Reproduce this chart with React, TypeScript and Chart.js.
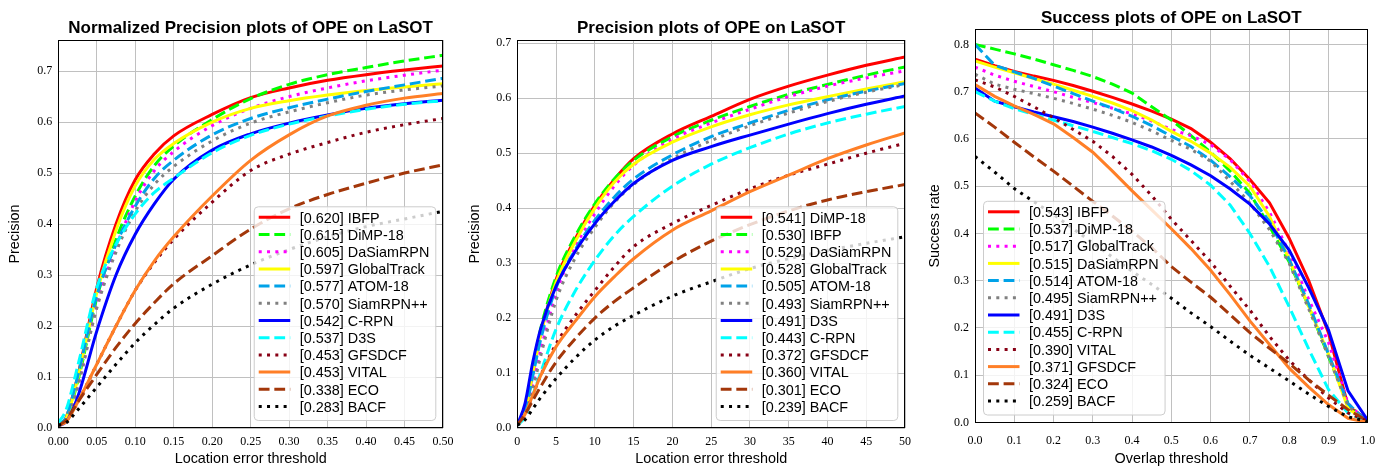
import React, { useEffect, useRef } from 'react';
import { Chart, registerables } from 'chart.js';

Chart.register(...registerables);

// ---------------- Shared style (by rank position) ----------------
const COLORS = ['#ff0000', '#00ff00', '#ff00ff', '#ffff00', 'rgb(0,162,232)', '#808080', '#0000ff', '#00ffff', 'rgb(136,0,21)', 'rgb(255,127,39)', 'rgb(163,55,10)', '#000000'];
const STYLES = ['-', '--', ':', '-', '--', ':', '-', '--', ':', '-', '--', ':'];

// ---------------- Panel 1: Normalized precision ----------------
const normX = [0, 0.01, 0.025, 0.05, 0.075, 0.1, 0.125, 0.15, 0.2, 0.25, 0.3, 0.35, 0.4, 0.45, 0.5];
const normNames = ['[0.620] IBFP', '[0.615] DiMP-18', '[0.605] DaSiamRPN', '[0.597] GlobalTrack', '[0.577] ATOM-18', '[0.570] SiamRPN++', '[0.542] C-RPN', '[0.537] D3S', '[0.453] GFSDCF', '[0.453] VITAL', '[0.338] ECO', '[0.283] BACF'];
const normIBFP = [0.005, 0.02, 0.1, 0.275, 0.4, 0.487, 0.538, 0.573, 0.615, 0.648, 0.667, 0.682, 0.693, 0.702, 0.71];
const normDiMP = [0.005, 0.018, 0.09, 0.255, 0.37, 0.455, 0.515, 0.553, 0.605, 0.646, 0.674, 0.693, 0.707, 0.72, 0.731];
const normDaSiam = [0.005, 0.015, 0.08, 0.24, 0.355, 0.445, 0.505, 0.542, 0.593, 0.627, 0.65, 0.667, 0.681, 0.692, 0.702];
const normGlobal = [0.005, 0.018, 0.095, 0.265, 0.388, 0.475, 0.527, 0.558, 0.6, 0.627, 0.642, 0.653, 0.662, 0.669, 0.675];
const normATOM = [0.005, 0.02, 0.1, 0.26, 0.36, 0.435, 0.49, 0.525, 0.575, 0.607, 0.628, 0.645, 0.66, 0.673, 0.686];
const normSiamRPN = [0.005, 0.015, 0.08, 0.235, 0.345, 0.425, 0.478, 0.513, 0.563, 0.598, 0.62, 0.638, 0.653, 0.663, 0.671];
const normCRPN = [0.005, 0.012, 0.06, 0.19, 0.3, 0.38, 0.44, 0.488, 0.545, 0.577, 0.598, 0.614, 0.627, 0.636, 0.643];
const normD3S = [0.01, 0.035, 0.12, 0.275, 0.36, 0.42, 0.462, 0.49, 0.54, 0.574, 0.596, 0.612, 0.625, 0.635, 0.642];
const normGFSDCF = [0.005, 0.012, 0.05, 0.125, 0.2, 0.27, 0.325, 0.37, 0.443, 0.505, 0.537, 0.56, 0.58, 0.595, 0.607];
const normVITAL = [0.005, 0.012, 0.05, 0.125, 0.2, 0.27, 0.328, 0.375, 0.455, 0.525, 0.575, 0.612, 0.633, 0.647, 0.656];
const normECO = [0.005, 0.015, 0.05, 0.105, 0.158, 0.205, 0.246, 0.283, 0.338, 0.39, 0.43, 0.458, 0.48, 0.5, 0.516];
const normBACF = [0.005, 0.01, 0.035, 0.08, 0.125, 0.167, 0.203, 0.235, 0.282, 0.32, 0.35, 0.375, 0.395, 0.41, 0.425];
const normXTicks = [0, 0.05, 0.1, 0.15, 0.2, 0.25, 0.3, 0.35, 0.4, 0.45, 0.5];
const normYTicks = [0, 0.1, 0.2, 0.3, 0.4, 0.5, 0.6, 0.7];

// ---------------- Panel 2: Precision ----------------
const precX = [0, 1, 2, 3, 5, 7.5, 10, 12.5, 15, 20, 25, 30, 35, 40, 45, 50];
const precNames = ['[0.541] DiMP-18', '[0.530] IBFP', '[0.529] DaSiamRPN', '[0.528] GlobalTrack', '[0.505] ATOM-18', '[0.493] SiamRPN++', '[0.491] D3S', '[0.443] C-RPN', '[0.372] GFSDCF', '[0.360] VITAL', '[0.301] ECO', '[0.239] BACF'];
const precDiMP = [0.005, 0.03, 0.1, 0.17, 0.27, 0.345, 0.405, 0.452, 0.49, 0.535, 0.567, 0.598, 0.622, 0.642, 0.66, 0.675];
const precIBFP = [0.005, 0.035, 0.11, 0.18, 0.275, 0.35, 0.408, 0.453, 0.487, 0.53, 0.56, 0.585, 0.607, 0.625, 0.642, 0.657];
const precDaSiam = [0.005, 0.025, 0.08, 0.14, 0.245, 0.33, 0.39, 0.44, 0.478, 0.525, 0.555, 0.58, 0.603, 0.622, 0.637, 0.65];
const precGlobal = [0.005, 0.03, 0.1, 0.17, 0.265, 0.34, 0.4, 0.447, 0.48, 0.52, 0.548, 0.57, 0.588, 0.603, 0.617, 0.63];
const precATOM = [0.005, 0.03, 0.095, 0.16, 0.255, 0.325, 0.378, 0.42, 0.453, 0.497, 0.53, 0.555, 0.578, 0.597, 0.613, 0.627];
const precSiamRPN = [0.005, 0.02, 0.07, 0.13, 0.232, 0.31, 0.365, 0.41, 0.443, 0.49, 0.523, 0.55, 0.573, 0.594, 0.611, 0.625];
const precD3S = [0.005, 0.045, 0.12, 0.18, 0.258, 0.322, 0.372, 0.412, 0.445, 0.487, 0.512, 0.533, 0.553, 0.572, 0.589, 0.604];
const precCRPN = [0.005, 0.02, 0.06, 0.1, 0.18, 0.25, 0.305, 0.35, 0.385, 0.44, 0.48, 0.51, 0.535, 0.555, 0.571, 0.585];
const precGFSDCF = [0.005, 0.025, 0.06, 0.095, 0.153, 0.205, 0.25, 0.293, 0.33, 0.372, 0.405, 0.435, 0.46, 0.48, 0.5, 0.518];
const precVITAL = [0.005, 0.025, 0.06, 0.095, 0.148, 0.195, 0.239, 0.275, 0.308, 0.36, 0.395, 0.43, 0.46, 0.49, 0.515, 0.537];
const precECO = [0.005, 0.025, 0.05, 0.075, 0.12, 0.163, 0.2, 0.23, 0.255, 0.302, 0.34, 0.37, 0.395, 0.415, 0.43, 0.443];
const precBACF = [0.005, 0.015, 0.035, 0.055, 0.09, 0.128, 0.16, 0.185, 0.205, 0.24, 0.266, 0.29, 0.308, 0.323, 0.336, 0.348];
const precXTicks = [0, 5, 10, 15, 20, 25, 30, 35, 40, 45, 50];
const precYTicks = [0, 0.1, 0.2, 0.3, 0.4, 0.5, 0.6, 0.7];

// ---------------- Panel 3: Success ----------------
const succX = [0, 0.05, 0.1, 0.15, 0.2, 0.25, 0.3, 0.35, 0.4, 0.45, 0.5, 0.55, 0.6, 0.65, 0.7, 0.75, 0.8, 0.85, 0.9, 0.95, 1.0];
const succNames = ['[0.543] IBFP', '[0.537] DiMP-18', '[0.517] GlobalTrack', '[0.515] DaSiamRPN', '[0.514] ATOM-18', '[0.495] SiamRPN++', '[0.491] D3S', '[0.455] C-RPN', '[0.390] VITAL', '[0.371] GFSDCF', '[0.324] ECO', '[0.259] BACF'];
const succIBFP = [0.769, 0.755, 0.743, 0.733, 0.724, 0.713, 0.701, 0.688, 0.674, 0.659, 0.642, 0.622, 0.593, 0.558, 0.514, 0.465, 0.39, 0.3, 0.19, 0.035, 0.005];
const succDiMP = [0.8, 0.79, 0.78, 0.769, 0.757, 0.745, 0.732, 0.716, 0.697, 0.668, 0.64, 0.607, 0.572, 0.532, 0.485, 0.415, 0.34, 0.245, 0.14, 0.038, 0];
const succGlobal = [0.752, 0.735, 0.722, 0.711, 0.7, 0.688, 0.677, 0.665, 0.653, 0.638, 0.62, 0.607, 0.588, 0.556, 0.51, 0.445, 0.36, 0.26, 0.17, 0.04, 0];
const succDaSiam = [0.765, 0.752, 0.74, 0.728, 0.716, 0.703, 0.69, 0.676, 0.66, 0.64, 0.616, 0.595, 0.57, 0.54, 0.5, 0.436, 0.345, 0.245, 0.145, 0.03, 0];
const succATOM = [0.8, 0.756, 0.742, 0.728, 0.712, 0.696, 0.68, 0.665, 0.648, 0.628, 0.606, 0.584, 0.555, 0.52, 0.48, 0.425, 0.345, 0.25, 0.145, 0.04, 0];
const succSiamRPN = [0.737, 0.716, 0.705, 0.696, 0.686, 0.675, 0.663, 0.65, 0.635, 0.617, 0.597, 0.578, 0.553, 0.51, 0.464, 0.408, 0.337, 0.24, 0.14, 0.035, 0];
const succD3S = [0.708, 0.68, 0.668, 0.657, 0.647, 0.637, 0.625, 0.612, 0.598, 0.583, 0.565, 0.545, 0.522, 0.494, 0.462, 0.42, 0.365, 0.285, 0.196, 0.067, 0.005];
const succCRPN = [0.7, 0.68, 0.664, 0.652, 0.64, 0.628, 0.616, 0.603, 0.59, 0.575, 0.557, 0.533, 0.502, 0.46, 0.4, 0.33, 0.245, 0.155, 0.07, 0.02, 0];
const succVITAL = [0.725, 0.71, 0.69, 0.668, 0.645, 0.62, 0.595, 0.563, 0.525, 0.48, 0.43, 0.385, 0.34, 0.288, 0.238, 0.182, 0.132, 0.09, 0.052, 0.02, 0.003];
const succGFSDCF = [0.715, 0.69, 0.67, 0.652, 0.632, 0.603, 0.572, 0.532, 0.49, 0.45, 0.41, 0.368, 0.322, 0.27, 0.215, 0.165, 0.115, 0.075, 0.038, 0.009, 0];
const succECO = [0.655, 0.625, 0.593, 0.562, 0.532, 0.5, 0.468, 0.437, 0.405, 0.37, 0.33, 0.297, 0.265, 0.228, 0.19, 0.157, 0.125, 0.09, 0.058, 0.027, 0.003];
const succBACF = [0.563, 0.53, 0.495, 0.467, 0.44, 0.41, 0.38, 0.35, 0.32, 0.292, 0.263, 0.232, 0.203, 0.172, 0.142, 0.115, 0.088, 0.06, 0.034, 0.012, 0.002];
const succXTicks = [0, 0.1, 0.2, 0.3, 0.4, 0.5, 0.6, 0.7, 0.8, 0.9, 1.0];
const succYTicks = [0, 0.1, 0.2, 0.3, 0.4, 0.5, 0.6, 0.7, 0.8];

// ---------------- Rendering ----------------
const H = 468;
const LW = 3;
const SANS = '"Liberation Sans", Arial, sans-serif';
const SERIF = '"Liberation Serif", "Times New Roman", serif';
const LEG_FONT = 14.4;

function dashFor(s: string): number[] {
  if (s === '--') return [10.8, 4.8];
  if (s === ':') return [3, 5.3];
  return [];
}

type PanelCfg = {
  left: number; width: number;
  area: { l: number; r: number; t: number; b: number };
  title: string; titleY: number;
  xLabel: string; yLabel: string;
  xs: number[]; series: number[][]; names: string[];
  xMax: number; xTicks: number[]; xDigits: number;
  yMax: number; yTicks: number[];
  xTickPad: number;
  legend: 'lr' | 'll';
  smooth: boolean;
};

function makeDecor(p: PanelCfg) {
  return {
    id: 'decor',
    afterDatasetsDraw(chart: any) {
      const { ctx, chartArea } = chart;
      ctx.save();
      ctx.font = `${LEG_FONT}px ${SANS}`;
      const tw = Math.max(...p.names.map((n) => ctx.measureText(n).width));
      const w = 46 + tw + 6;
      const rowH = 17.2;
      const h = 11 + rowH * (p.names.length - 1) + 13.5;
      const x0 = p.legend === 'lr' ? chartArea.right - 7.7 - w : chartArea.left + 8;
      const y0 = chartArea.bottom - 8 - h;
      ctx.beginPath();
      (ctx as any).roundRect(x0 + 0.5, y0 + 0.5, w, h, 4);
      ctx.fillStyle = 'rgba(255,255,255,0.8)';
      ctx.fill();
      ctx.strokeStyle = '#cccccc';
      ctx.lineWidth = 1;
      ctx.stroke();
      p.names.forEach((name, i) => {
        const cy = y0 + 11 + i * rowH;
        ctx.beginPath();
        ctx.setLineDash(dashFor(STYLES[i]));
        ctx.lineCap = 'butt';
        ctx.strokeStyle = COLORS[i];
        ctx.lineWidth = LW;
        ctx.moveTo(x0 + 5, cy);
        ctx.lineTo(x0 + 36.5, cy);
        ctx.stroke();
        ctx.setLineDash([]);
        ctx.fillStyle = '#000';
        ctx.textAlign = 'left';
        ctx.textBaseline = 'alphabetic';
        ctx.fillText(name, x0 + 46, cy + 5.2);
      });
      ctx.restore();
    },
    afterDraw(chart: any) {
      const { ctx, chartArea } = chart;
      ctx.save();
      ctx.strokeStyle = '#000';
      ctx.lineWidth = 1;
      ctx.setLineDash([]);
      const l = Math.round(chartArea.left) + 0.5;
      const t = Math.round(chartArea.top) + 0.5;
      const r = Math.round(chartArea.right) - 0.5;
      const b = Math.round(chartArea.bottom) - 0.5;
      ctx.strokeRect(l, t, r - l, b - t);
      ctx.font = `bold 17px ${SANS}`;
      ctx.fillStyle = '#000';
      ctx.textAlign = 'center';
      ctx.textBaseline = 'alphabetic';
      ctx.fillText(p.title, (chartArea.left + chartArea.right) / 2, p.titleY);
      ctx.restore();
    },
  };
}

function buildConfig(p: PanelCfg): any {
  const n = p.series.length;
  const datasets = p.series.map((ys, i) => ({
    label: p.names[i],
    data: p.xs.map((x, j) => ({ x, y: ys[j] })),
    borderColor: COLORS[i],
    backgroundColor: COLORS[i],
    borderWidth: LW,
    borderDash: dashFor(STYLES[i]),
    borderCapStyle: 'butt',
    pointRadius: 0,
    fill: false,
    tension: 0,
    cubicInterpolationMode: p.smooth ? 'monotone' : 'default',
    clip: 0,
    order: n - i,
  }));
  return {
    type: 'line',
    data: { datasets },
    plugins: [makeDecor(p)],
    options: {
      animation: false,
      responsive: false,
      maintainAspectRatio: false,
      events: [],
      layout: { padding: { left: 0, right: p.width - p.area.r, top: p.area.t, bottom: 0 } },
      plugins: { legend: { display: false }, title: { display: false }, tooltip: { enabled: false } },
      scales: {
        x: {
          type: 'linear',
          min: 0,
          max: p.xMax,
          afterBuildTicks: (s: any) => { s.ticks = p.xTicks.map((v) => ({ value: v })); },
          afterFit: (s: any) => { s.height = H - p.area.b; },
          ticks: {
            callback: (v: any) => Number(v).toFixed(p.xDigits),
            font: { family: SERIF, size: 12 },
            color: '#000',
            padding: p.xTickPad,
            maxRotation: 0,
            autoSkip: false,
          },
          grid: { color: 'rgb(192,192,192)', lineWidth: 1, drawTicks: false },
          border: { display: false },
          title: { display: true, text: p.xLabel, font: { family: SANS, size: 14.4 }, color: '#000', padding: { top: 0, bottom: 0.5 } },
        },
        y: {
          type: 'linear',
          min: 0,
          max: p.yMax,
          afterBuildTicks: (s: any) => { s.ticks = p.yTicks.map((v) => ({ value: v })); },
          afterFit: (s: any) => { s.width = p.area.l; },
          ticks: {
            callback: (v: any) => Number(v).toFixed(1),
            font: { family: SERIF, size: 12 },
            color: '#000',
            padding: 6,
            autoSkip: false,
          },
          grid: { color: 'rgb(192,192,192)', lineWidth: 1, drawTicks: false },
          border: { display: false },
          title: { display: true, text: p.yLabel, font: { family: SANS, size: 14.4 }, color: '#000', padding: { top: 6.4, bottom: 0 } },
        },
      },
    },
  };
}

const panels: PanelCfg[] = [
  {
    left: 0, width: 460,
    area: { l: 58.3, r: 445.7, t: 40, b: 428 },
    title: 'Normalized Precision plots of OPE on LaSOT', titleY: 33,
    xLabel: 'Location error threshold', yLabel: 'Precision',
    xs: normX,
    series: [normIBFP, normDiMP, normDaSiam, normGlobal, normATOM, normSiamRPN, normCRPN, normD3S, normGFSDCF, normVITAL, normECO, normBACF],
    names: normNames,
    xMax: 0.5, xTicks: normXTicks, xDigits: 2,
    yMax: 0.761, yTicks: normYTicks,
    xTickPad: 6.5, legend: 'lr', smooth: true,
  },
  {
    left: 460, width: 460,
    area: { l: 57.3, r: 445, t: 40, b: 428 },
    title: 'Precision plots of OPE on LaSOT', titleY: 33,
    xLabel: 'Location error threshold', yLabel: 'Precision',
    xs: precX,
    series: [precDiMP, precIBFP, precDaSiam, precGlobal, precATOM, precSiamRPN, precD3S, precCRPN, precGFSDCF, precVITAL, precECO, precBACF],
    names: precNames,
    xMax: 50, xTicks: precXTicks, xDigits: 0,
    yMax: 0.706, yTicks: precYTicks,
    xTickPad: 6.5, legend: 'lr', smooth: true,
  },
  {
    left: 920, width: 467,
    area: { l: 55, r: 447.7, t: 29.3, b: 422.5 },
    title: 'Success plots of OPE on LaSOT', titleY: 22.5,
    xLabel: 'Overlap threshold', yLabel: 'Success rate',
    xs: succX,
    series: [succIBFP, succDiMP, succGlobal, succDaSiam, succATOM, succSiamRPN, succD3S, succCRPN, succVITAL, succGFSDCF, succECO, succBACF],
    names: succNames,
    xMax: 1.0, xTicks: succXTicks, xDigits: 1,
    yMax: 0.832, yTicks: succYTicks,
    xTickPad: 11, legend: 'll', smooth: false,
  },
];

function Panel({ cfg }: { cfg: PanelCfg }) {
  const ref = useRef<HTMLCanvasElement>(null);
  useEffect(() => {
    if (!ref.current) return;
    const chart = new Chart(ref.current, buildConfig(cfg));
    return () => chart.destroy();
  }, [cfg]);
  return (
    <canvas
      ref={ref}
      width={cfg.width}
      height={H}
      style={{ position: 'absolute', left: cfg.left, top: 0, width: cfg.width, height: H }}
    />
  );
}

export default function App() {
  return (
    <div style={{ position: 'absolute', left: 0, top: 0, width: 1387, height: H, background: '#fff', overflow: 'hidden' }}>
      {panels.map((p, i) => (
        <Panel key={i} cfg={p} />
      ))}
    </div>
  );
}
